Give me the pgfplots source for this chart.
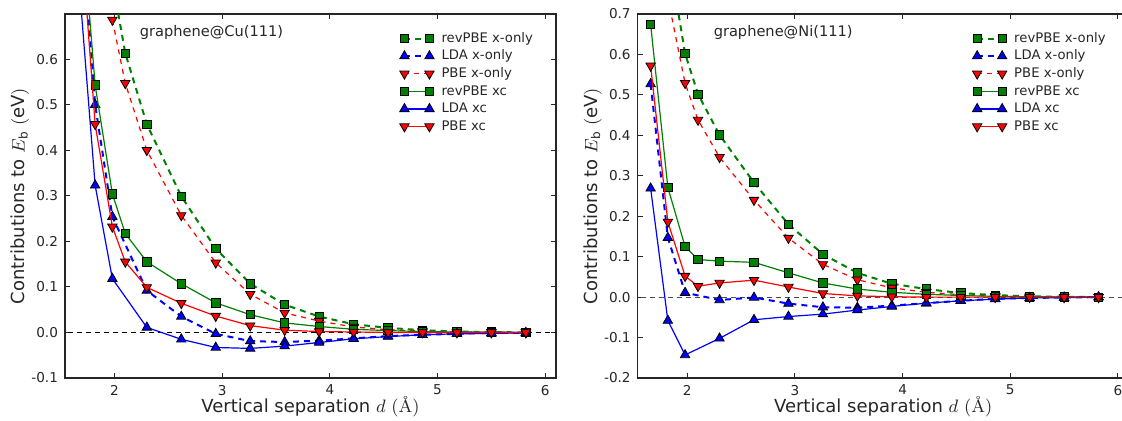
\documentclass[border=0pt]{standalone}
\usepackage{fontspec}
\setmainfont{DejaVu Sans}
\usepackage{pgfplots}
\pgfplotsset{compat=1.18}
\definecolor{mgreen}{rgb}{0,0.5,0}
\newcommand{\lmr}[1]{{\fontfamily{lmr}\selectfont #1}}

\pgfplotsset{
  panel/.style={
    width=245.5pt, height=182pt, scale only axis,
    xmin=1.54, xmax=6.1,
    xtick={2,3,4,5,6},
    tick align=inside,
    major tick length=2.5pt,
    axis line style={line width=0.6pt, black!85},
    tick style={black!85, line width=0.5pt},
    /pgf/number format/assume math mode=true,
    tick label style={font=\fontsize{6.8}{8}\selectfont, black!85},
    yticklabel style={/pgf/number format/.cd, fixed, fixed zerofill, precision=1},
    label style={font=\fontsize{9}{11}\selectfont, black!85},
    xlabel={Vertical separation $d$ \lmr{(Å)}},
    ylabel={Contributions to $E_{\mathrm{b}}$ $(\mathrm{eV})$},
    xlabel style={at={(axis description cs:0.5,-0.0797)}, anchor=center},
    ylabel style={at={(axis description cs:-0.0916,0.5)}, anchor=center},
    clip marker paths=true,
    legend style={draw=none, fill=none, at={(axis description cs:0.681,0.958)}, anchor=north west,
      font=\fontsize{6.6}{8}\selectfont, inner sep=0pt, row sep=0pt,
      nodes={inner sep=0.5pt, text height=5.8pt, text depth=2pt, text=black!85},
      /tikz/every odd column/.append style={column sep=3.2pt}},
    legend cell align=left,
    legend image code/.code={\draw[mark repeat=2,mark phase=1,#1] plot coordinates {(0pt,0pt) (6.25pt,0pt) (12.5pt,0pt)};},
  },
  xonlyG/.style={mgreen, line width=1pt, dash pattern=on 3pt off 2.5pt, mark=square*, mark size=2.1pt,
    mark options={solid, fill=mgreen, draw=black, line width=0.4pt}},
  xonlyB/.style={blue, line width=1pt, dash pattern=on 3pt off 2.5pt, mark=triangle*, mark size=2.7pt,
    mark options={solid, fill=blue, draw=black, line width=0.4pt}},
  xonlyR/.style={red, line width=0.6pt, dash pattern=on 2.5pt off 2.5pt, mark=triangle*, mark size=2.7pt,
    mark options={solid, fill=red, draw=black, line width=0.4pt, rotate=180}},
  xcG/.style={mgreen, line width=0.6pt, solid, mark=square*, mark size=2.1pt,
    mark options={solid, fill=mgreen, draw=black, line width=0.4pt}},
  xcB/.style={blue, line width=0.6pt, solid, mark=triangle*, mark size=2.7pt,
    mark options={solid, fill=blue, draw=black, line width=0.4pt}},
  xcR/.style={red, line width=0.6pt, solid, mark=triangle*, mark size=2.7pt,
    mark options={solid, fill=red, draw=black, line width=0.4pt, rotate=180}},
  zeroline/.style={black, line width=0.5pt, dash pattern=on 2.5pt off 2pt, forget plot},
}

\begin{document}
\begin{tikzpicture}[x=1pt,y=1pt]
\useasboundingbox (0,0) rectangle (561,210);

% ---------------- (a) graphene@Cu(111)
\begin{axis}[panel, at={(32.5pt,21pt)}, anchor=south west,
  ymin=-0.1, ymax=0.699, ytick={-0.1,0,0.1,0.2,0.3,0.4,0.5,0.6}]
\addplot[zeroline] coordinates {(1.4,0) (6.2,0)};
\addplot[xonlyG] coordinates {
(1.98,0.772) (2.10,0.613) (2.30,0.457) (2.62,0.299) (2.94,0.184) (3.26,0.107) (3.58,0.061)
(3.90,0.035) (4.22,0.018) (4.54,0.010) (4.86,0.005) (5.18,0.002) (5.50,0.001) (5.82,0.000)};
\addlegendentry{revPBE x-only}
\addplot[xonlyB] coordinates {
(1.66,1.00) (1.82,0.500) (1.98,0.254) (2.30,0.092) (2.62,0.035) (2.94,-0.003) (3.26,-0.019)
(3.58,-0.021) (3.90,-0.018) (4.22,-0.013) (4.54,-0.008) (4.86,-0.005) (5.18,-0.003) (5.50,-0.001) (5.82,-0.001)};
\addlegendentry{LDA x-only}
\addplot[xonlyR] coordinates {
(1.98,0.686) (2.10,0.547) (2.30,0.400) (2.62,0.257) (2.94,0.153) (3.26,0.084) (3.58,0.043)
(3.90,0.025) (4.22,0.012) (4.54,0.006) (4.86,0.003) (5.18,0.001) (5.50,0.0005) (5.82,0.000)};
\addlegendentry{PBE x-only}
\addplot[xcG] coordinates {
(1.66,1.01) (1.82,0.543) (1.98,0.304) (2.10,0.217) (2.30,0.155) (2.62,0.107) (2.94,0.065) (3.26,0.039)
(3.58,0.021) (3.90,0.013) (4.22,0.007) (4.54,0.004) (4.86,0.002) (5.18,0.001) (5.50,0.0005) (5.82,0.000)};
\addlegendentry{revPBE xc}
\addplot[xcB] coordinates {
(1.66,0.80) (1.82,0.323) (1.98,0.118) (2.30,0.011) (2.62,-0.015) (2.94,-0.033) (3.26,-0.035)
(3.58,-0.030) (3.90,-0.022) (4.22,-0.014) (4.54,-0.009) (4.86,-0.005) (5.18,-0.003) (5.50,-0.002) (5.82,-0.001)};
\addlegendentry{LDA xc}
\addplot[xcR] coordinates {
(1.66,0.97) (1.82,0.457) (1.98,0.232) (2.10,0.155) (2.30,0.099) (2.62,0.064) (2.94,0.036) (3.26,0.015)
(3.58,0.005) (3.90,0.002) (4.22,0.001) (4.54,0.000) (4.86,0.000) (5.18,0.000) (5.50,0.000) (5.82,0.000)};
\addlegendentry{PBE xc}
\node[anchor=west, font=\fontsize{7.3}{9}\selectfont, text=black!85] at (axis description cs:0.138,0.9505) {graphene@Cu(111)};
\node[font=\fontsize{9}{11}\selectfont, text=black!85] at (axis description cs:-0.0937,-0.0824) {(a)};
\end{axis}

% ---------------- (b) graphene@Ni(111)
\begin{axis}[panel, at={(318.85pt,21pt)}, anchor=south west,
  ymin=-0.2, ymax=0.7, ytick={-0.2,-0.1,0,0.1,0.2,0.3,0.4,0.5,0.6,0.7}]
\addplot[zeroline, black!70] coordinates {(1.4,0) (6.2,0)};
\addplot[xonlyG] coordinates {
(1.82,0.86) (1.98,0.602) (2.10,0.502) (2.30,0.401) (2.62,0.283) (2.94,0.180) (3.26,0.106) (3.58,0.060)
(3.90,0.033) (4.22,0.020) (4.54,0.010) (4.86,0.005) (5.18,0.002) (5.50,0.001) (5.82,0.000)};
\addlegendentry{revPBE x-only}
\addplot[xonlyB] coordinates {
(1.66,0.527) (1.82,0.147) (1.98,0.011) (2.30,-0.007) (2.62,-0.001) (2.94,-0.016) (3.26,-0.025)
(3.58,-0.026) (3.90,-0.021) (4.22,-0.015) (4.54,-0.009) (4.86,-0.004) (5.18,-0.002) (5.50,-0.001) (5.82,0.000)};
\addlegendentry{LDA x-only}
\addplot[xonlyR] coordinates {
(1.82,0.74) (1.98,0.529) (2.10,0.438) (2.30,0.346) (2.62,0.240) (2.94,0.146) (3.26,0.081) (3.58,0.043)
(3.90,0.023) (4.22,0.012) (4.54,0.006) (4.86,0.002) (5.18,0.001) (5.50,0.000) (5.82,0.000)};
\addlegendentry{PBE x-only}
\addplot[xcG] coordinates {
(1.66,0.674) (1.82,0.271) (1.98,0.125) (2.10,0.093) (2.30,0.089) (2.62,0.086) (2.94,0.060) (3.26,0.035)
(3.58,0.020) (3.90,0.012) (4.22,0.007) (4.54,0.004) (4.86,0.002) (5.18,0.001) (5.50,0.0005) (5.82,0.000)};
\addlegendentry{revPBE xc}
\addplot[xcB] coordinates {
(1.66,0.269) (1.82,-0.058) (1.98,-0.143) (2.30,-0.102) (2.62,-0.056) (2.94,-0.048) (3.26,-0.042)
(3.58,-0.032) (3.90,-0.023) (4.22,-0.015) (4.54,-0.009) (4.86,-0.005) (5.18,-0.002) (5.50,-0.001) (5.82,0.000)};
\addlegendentry{LDA xc}
\addplot[xcR] coordinates {
(1.66,0.572) (1.82,0.186) (1.98,0.052) (2.10,0.027) (2.30,0.035) (2.62,0.042) (2.94,0.025) (3.26,0.009)
(3.58,0.003) (3.90,0.001) (4.22,0.000) (4.54,0.000) (4.86,0.000) (5.18,0.000) (5.50,0.000) (5.82,0.000)};
\addlegendentry{PBE xc}
\node[anchor=west, font=\fontsize{7.3}{9}\selectfont, text=black!85] at (axis description cs:0.1405,0.9505) {graphene@Ni(111)};
\node[font=\fontsize{9}{11}\selectfont, text=black!85] at (axis description cs:-0.091,-0.0824) {(b)};
\end{axis}
\end{tikzpicture}
\end{document}
